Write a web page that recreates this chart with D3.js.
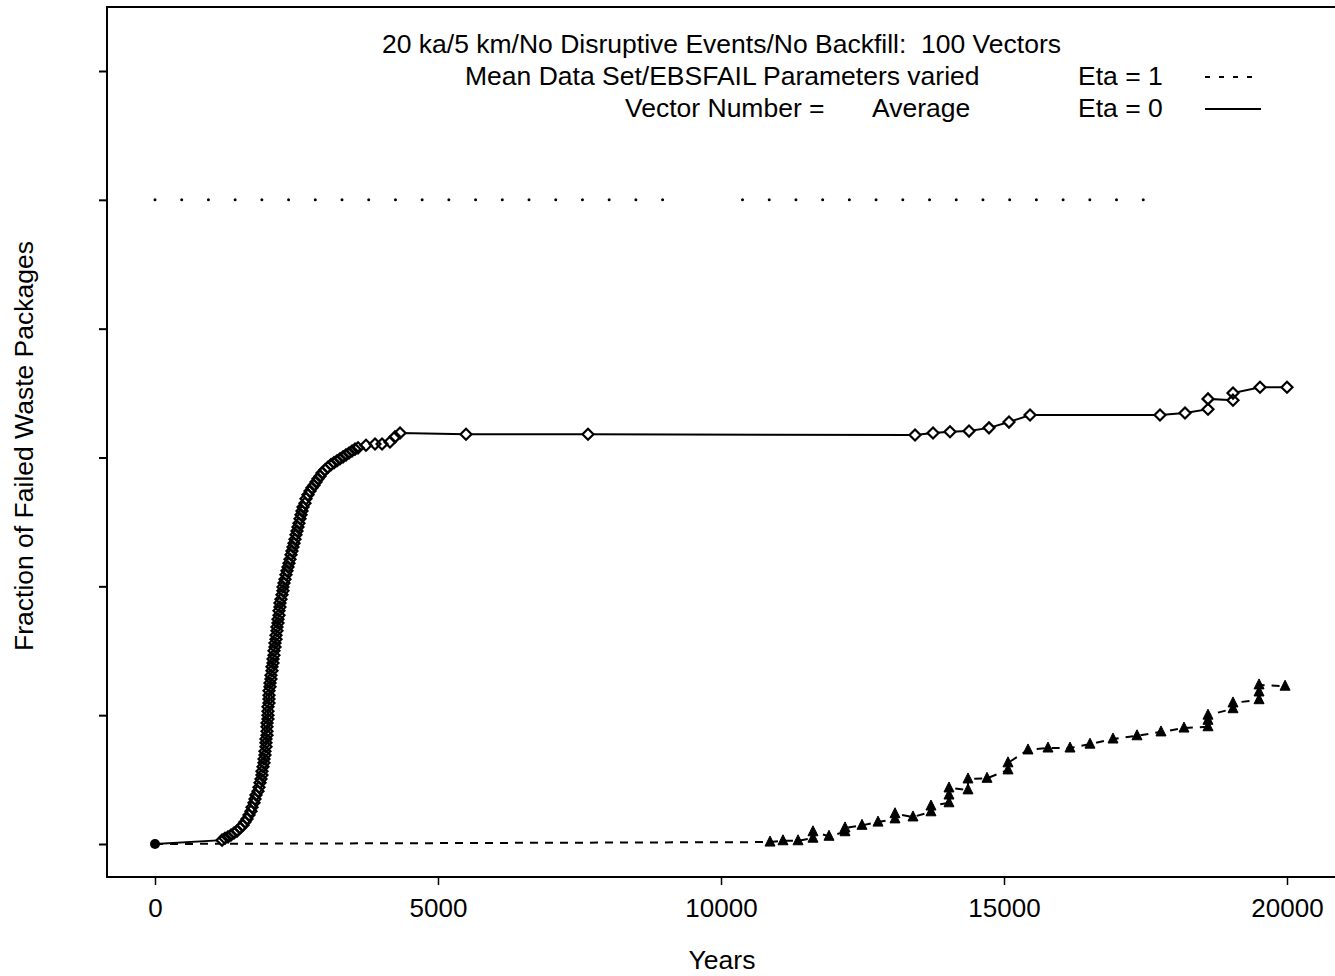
<!DOCTYPE html>
<html>
<head>
<meta charset="utf-8">
<script src="https://cdn.jsdelivr.net/npm/d3@7"></script>
<style>
  body { margin: 0; background: #fff; }
  text { font-family: "Liberation Sans", Arial, sans-serif; fill: #000; white-space: pre; }
</style>
</head>
<body>
<svg></svg>
<script>
const w = 1335;
const h = 976;

// Eta = 0 (solid line, open diamonds): years and fraction failed
const eta0Years = [0, 1184, 1237, 1290, 1343, 1396, 1449, 1502, 1555, 1590, 1625, 1661, 1696, 1714, 1749,
    1767, 1784, 1820, 1837, 1855, 1873, 1890, 1890, 1908, 1926, 1926, 1943, 1943, 1961, 1961, 1961,
    1979, 1979, 1979, 1979, 1996, 1996, 1996, 1996, 2014, 2014, 2014, 2014, 2032, 2032, 2049, 2049,
    2067, 2067, 2085, 2085, 2102, 2102, 2120, 2120, 2138, 2138, 2155, 2155, 2173, 2173, 2191, 2191,
    2208, 2208, 2226, 2244, 2261, 2261, 2279, 2297, 2314, 2332, 2350, 2367, 2385, 2403, 2420, 2438,
    2456, 2473, 2491, 2509, 2526, 2544, 2562, 2580, 2597, 2615, 2650, 2668, 2703, 2739, 2774, 2809,
    2845, 2880, 2915, 2951, 3004, 3057, 3110, 3163, 3216, 3269, 3322, 3375, 3428, 3481, 3534, 3587,
    3728, 3887, 4011, 4152, 4240, 4329, 5495, 7650, 13428, 13746, 14046, 14382, 14735, 15088, 15460,
    17756, 18198, 18604, 18604, 19046, 19046, 19523, 20000];
const eta0Frac = [0, 0.006, 0.009, 0.011, 0.014, 0.017, 0.020, 0.025, 0.029, 0.034, 0.039, 0.045, 0.051, 0.057, 0.064,
    0.070, 0.076, 0.082, 0.088, 0.095, 0.101, 0.107, 0.113, 0.120, 0.126, 0.132, 0.138, 0.144, 0.151, 0.157, 0.163,
    0.169, 0.175, 0.182, 0.188, 0.194, 0.200, 0.206, 0.213, 0.219, 0.225, 0.231, 0.238, 0.244, 0.250, 0.256, 0.262,
    0.269, 0.275, 0.281, 0.287, 0.293, 0.300, 0.306, 0.312, 0.318, 0.324, 0.331, 0.337, 0.343, 0.349, 0.355, 0.362,
    0.368, 0.374, 0.380, 0.387, 0.393, 0.399, 0.405, 0.411, 0.418, 0.424, 0.430, 0.436, 0.442, 0.449, 0.455, 0.461,
    0.467, 0.473, 0.480, 0.486, 0.492, 0.498, 0.505, 0.511, 0.517, 0.523, 0.529, 0.536, 0.542, 0.548, 0.553, 0.557,
    0.562, 0.567, 0.571, 0.576, 0.581, 0.585, 0.589, 0.592, 0.595, 0.598, 0.601, 0.604, 0.607, 0.610, 0.613, 0.615,
    0.619, 0.621, 0.621, 0.624, 0.632, 0.638, 0.636, 0.636, 0.635, 0.638, 0.640, 0.641, 0.646, 0.655, 0.666,
    0.666, 0.669, 0.675, 0.691, 0.689, 0.700, 0.709, 0.709];

// Eta = 1 (dashed line, filled triangles)
const eta1Years = [0, 10866, 11095, 11361, 11625, 11625, 11908, 12191, 12191, 12491, 12774, 13074, 13074,
    13392, 13710, 13710, 14028, 14028, 14028, 14364, 14364, 14700, 15071, 15071, 15424, 15777, 16166,
    16519, 16926, 17350, 17774, 18180, 18604, 18604, 18604, 19046, 19046, 19506, 19506, 19506, 19966];
const eta1Frac = [0, 0.003, 0.005, 0.005, 0.009, 0.019, 0.012, 0.019, 0.025, 0.029, 0.034, 0.039, 0.047,
    0.042, 0.050, 0.059, 0.064, 0.076, 0.087, 0.084, 0.101, 0.102, 0.115, 0.126, 0.146, 0.149, 0.149,
    0.155, 0.163, 0.168, 0.174, 0.180, 0.182, 0.192, 0.200, 0.210, 0.219, 0.224, 0.236, 0.247, 0.245];

// dotted reference line at fraction 1 (two runs, gap in the middle)
const refRuns = [[0, 9000], [10380, 17500]];
const refFrac = 1.0;

const xTicks = [0, 5000, 10000, 15000, 20000];
const yTicks = [0, 0.2, 0.4, 0.6, 0.8, 1.0, 1.2];

const titleLines = [
    '20 ka/5 km/No Disruptive Events/No Backfill:  100 Vectors',
    'Mean Data Set/EBSFAIL Parameters varied'
];

const fs = 26.5;

const svg = d3.select('svg').attr('width', w).attr('height', h);

const frameLeft = 107, frameTop = 7, frameBottom = 877;

const xScale = d3.scaleLinear().domain([0, 20000]).range([155, 1287]);
const yScale = d3.scaleLinear().domain([0, 1.2]).range([844, 71]);

// frame
svg.append('path')
    .attr('d', `M${w},${frameTop}H${frameLeft}V${frameBottom}H${w}`)
    .attr('fill', 'none')
    .attr('stroke', '#000')
    .attr('stroke-width', 2);

// axes
const yAxis = d3.axisLeft(yScale).tickValues(yTicks).tickFormat('').tickSize(8).tickSizeOuter(0);
svg.append('g')
    .attr('transform', `translate(${frameLeft},0)`)
    .call(yAxis)
    .call(g => g.select('.domain').remove())
    .call(g => g.selectAll('line').attr('stroke-width', 2));

const xAxis = d3.axisBottom(xScale).tickValues(xTicks).tickFormat(d3.format('d')).tickSize(8).tickPadding(14);
svg.append('g')
    .attr('transform', `translate(0,${frameBottom})`)
    .call(xAxis)
    .call(g => g.select('.domain').remove())
    .call(g => g.selectAll('line').attr('stroke-width', 1.5))
    .call(g => g.selectAll('text').attr('font-size', 26).attr('font-family', '"Liberation Sans", Arial, sans-serif'));

svg.append('text')
    .attr('x', 722).attr('y', 969)
    .attr('text-anchor', 'middle')
    .attr('font-size', fs)
    .text('Years');

svg.append('text')
    .attr('transform', 'translate(33,446) rotate(-90)')
    .attr('text-anchor', 'middle')
    .attr('font-size', fs)
    .text('Fraction of Failed Waste Packages');

// dotted line
const refDash = xScale(472) - xScale(0);
refRuns.forEach(r => {
    svg.append('line')
        .attr('x1', xScale(r[0])).attr('x2', xScale(r[1]))
        .attr('y1', yScale(refFrac)).attr('y2', yScale(refFrac))
        .attr('stroke', '#000')
        .attr('stroke-width', 3)
        .attr('stroke-linecap', 'round')
        .attr('stroke-dasharray', `0,${refDash}`);
});

const eta0 = eta0Years.map((d, i) => [d, eta0Frac[i]]);
const eta1 = eta1Years.map((d, i) => [d, eta1Frac[i]]);

const line = d3.line().x(d => xScale(d[0])).y(d => yScale(d[1]));

svg.append('path')
    .datum(eta1)
    .attr('d', line)
    .attr('fill', 'none')
    .attr('stroke', '#000')
    .attr('stroke-width', 2)
    .attr('stroke-dasharray', '8,7');

svg.append('path')
    .datum(eta0)
    .attr('d', line)
    .attr('fill', 'none')
    .attr('stroke', '#000')
    .attr('stroke-width', 2);

// triangles
svg.selectAll('.tri')
    .data(eta1.slice(1))
    .enter()
    .append('path')
    .attr('class', 'tri')
    .attr('transform', d => `translate(${xScale(d[0])},${yScale(d[1])})`)
    .attr('d', 'M0,-6L5,4L-5,4Z')
    .attr('fill', '#000')
    .attr('stroke', '#000')
    .attr('stroke-width', 1);

// diamonds: white fills first, then outlines on top
const diamond = 'M0,-5.5L5.5,0L0,5.5L-5.5,0Z';
svg.selectAll('.diaf')
    .data(eta0.slice(1))
    .enter()
    .append('path')
    .attr('class', 'diaf')
    .attr('transform', d => `translate(${xScale(d[0])},${yScale(d[1])})`)
    .attr('d', diamond)
    .attr('fill', '#fff');
svg.selectAll('.dia')
    .data(eta0.slice(1))
    .enter()
    .append('path')
    .attr('class', 'dia')
    .attr('transform', d => `translate(${xScale(d[0])},${yScale(d[1])})`)
    .attr('d', diamond)
    .attr('fill', 'none')
    .attr('stroke', '#000')
    .attr('stroke-width', 2.2);

// start point
svg.append('circle')
    .attr('cx', xScale(eta0[0][0])).attr('cy', yScale(eta0[0][1]))
    .attr('r', 5).attr('fill', '#000');

// title + legend
svg.append('text').attr('x', 382).attr('y', 53).attr('font-size', fs).text(titleLines[0]);
svg.append('text').attr('x', 465).attr('y', 85).attr('font-size', fs).text(titleLines[1]);
svg.append('text').attr('x', 625).attr('y', 117).attr('font-size', fs).text('Vector Number =');
svg.append('text').attr('x', 872).attr('y', 117).attr('font-size', fs).text('Average');
svg.append('text').attr('x', 1078).attr('y', 85).attr('font-size', fs).text('Eta = 1');
svg.append('text').attr('x', 1078).attr('y', 117).attr('font-size', fs).text('Eta = 0');

svg.append('line')
    .attr('x1', 1205).attr('x2', 1260).attr('y1', 77).attr('y2', 77)
    .attr('stroke', '#000').attr('stroke-width', 2).attr('stroke-dasharray', '5,9');
svg.append('line')
    .attr('x1', 1205).attr('x2', 1261).attr('y1', 109).attr('y2', 109)
    .attr('stroke', '#000').attr('stroke-width', 2);
</script>
</body>
</html>
